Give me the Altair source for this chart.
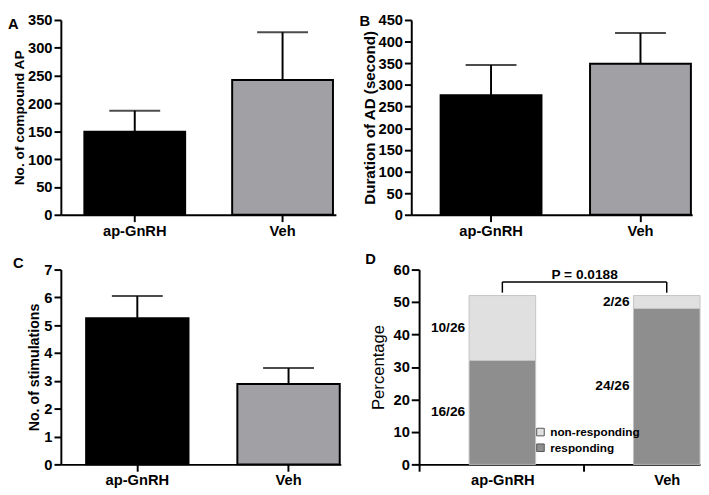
import altair as alt
import pandas as pd

FONT = "Liberation Sans"

# ---------------- data ----------------
groups = ["ap-GnRH", "Veh"]
bar_colors = ["#000000", "#a1a1a5"]

# Panel A: No. of compound AP
a_mean = [149, 242]
a_upper = [187, 328]
# Panel B: Duration of AD (second)
b_mean = [276, 349]
b_upper = [346, 420]
# Panel C: No. of stimulations
c_mean = [5.25, 2.89]
c_upper = [6.05, 3.46]

# Panel D: Percentage (stacked)
d_groups = ["ap-GnRH", "ap-GnRH", "Veh", "Veh"]
d_status = ["responding", "non-responding", "responding", "non-responding"]
d_values = [32, 20, 48, 4]
d_labels = ["16/26", "10/26", "24/26", "2/26"]
d_status_order = ["non-responding", "responding"]
d_colors = ["#e0e0e0", "#8e8e8e"]
p_text = "P = 0.0188"
bracket_top = 56.2
bracket_bottom = 52.9
p_text_y = 58.3

H = 199


def x_axis(**kw):
    return alt.Axis(title=None, labelAngle=0, labelFont=FONT, labelFontSize=15,
                    labelFontWeight="bold", labelColor="black", domainColor="black",
                    domainWidth=2, tickColor="black", tickWidth=2, tickSize=7,
                    labelPadding=2, **kw)


def y_axis(title, values, title_size, title_weight="bold", title_pad=1, label_size=15):
    return alt.Axis(title=title, values=values, grid=False, labelFont=FONT,
                    labelFontSize=label_size, labelFontWeight="bold", labelColor="black",
                    domainColor="black", domainWidth=2, tickColor="black", tickWidth=2,
                    tickSize=7, labelPadding=2, titleFont=FONT, titleFontSize=title_size,
                    titleFontWeight=title_weight, titleColor="black", titlePadding=title_pad)


def bar_panel(means, upper, ymax, ystep, title, title_size, width, height,
              pi, po, align, letter, lx, ly, title_pad):
    df = pd.DataFrame({"group": groups, "mean": means, "upper": upper, "fill": bar_colors})
    xs = alt.Scale(domain=groups, paddingInner=pi, paddingOuter=po, align=align)
    x = alt.X("group:N", sort=groups, scale=xs, axis=x_axis())
    ys = alt.Scale(domain=[0, ymax], nice=False, zero=True)
    yax = y_axis(title, [v for v in range(0, int(ymax) + 1, ystep)], title_size, title_pad=title_pad)
    bars = alt.Chart(df).mark_bar(stroke="black", strokeWidth=2).encode(
        x=x,
        y=alt.Y("mean:Q", scale=ys, axis=yax),
        fill=alt.Fill("fill:N", scale=None),
    )
    err = alt.Chart(df).mark_rule(color="black", strokeWidth=2).encode(
        x=x, y=alt.Y("mean:Q", scale=ys, axis=yax), y2="upper:Q")
    cap = alt.Chart(df).mark_tick(color="black", size=52, thickness=2).encode(
        x=x, y=alt.Y("upper:Q", scale=ys, axis=yax))
    let = alt.Chart(pd.DataFrame({"t": [letter]})).mark_text(
        font=FONT, fontSize=15, fontWeight="bold", align="left", baseline="middle", color="black"
    ).encode(text="t:N", x=alt.value(lx), y=alt.value(ly))
    return alt.layer(bars, err, cap, let).properties(width=width, height=height)


def pct_panel():
    df = pd.DataFrame({"group": d_groups, "status": d_status, "value": d_values, "label": d_labels})
    xs = alt.Scale(domain=groups, paddingInner=0.595, paddingOuter=0.152, align=1)
    xax = x_axis(tickOffset=-85, labelOffset=85)
    x = alt.X("group:N", sort=groups, scale=xs, axis=xax)
    ys = alt.Scale(domain=[0, 60], nice=False)
    yax = alt.Axis(title="Percentage", values=list(range(0, 61, 10)), grid=False, labelFont=FONT,
                   labelFontSize=15, labelFontWeight="bold", labelColor="black",
                   domainColor="black", domainWidth=2, tickColor="black", tickWidth=2,
                   tickSize=8, labelPadding=2, titleFont=FONT, titleFontSize=17,
                   titleFontWeight="normal", titleColor="black", titlePadding=6)
    base = alt.Chart(df).transform_calculate(
        rank="datum.status === 'responding' ? 0 : 1")
    bars = base.mark_bar(stroke="#c4c4c4", strokeWidth=1).encode(
        x=x,
        y=alt.Y("value:Q", stack="zero", scale=ys, axis=yax),
        color=alt.Color("status:N", scale=alt.Scale(domain=d_status_order, range=d_colors),
                        legend=alt.Legend(title=None, orient="none", legendX=118, legendY=160,
                                          labelFont=FONT, labelFontSize=12, labelFontWeight="bold",
                                          labelColor="black", symbolType="square", symbolSize=60,
                                          symbolStrokeColor="#555555", symbolStrokeWidth=1,
                                          rowPadding=4, labelOffset=4, padding=0)),
        order=alt.Order("rank:Q"),
    )
    labels = base.transform_stack(
        stack="value", groupby=["group"], sort=[alt.SortField("rank")], as_=["v0", "v1"]
    ).transform_calculate(mid="(datum.v0 + datum.v1) / 2").mark_text(
        font=FONT, fontSize=14, fontWeight="bold", align="right", baseline="middle",
        dx=-38, color="black"
    ).encode(x=x, y=alt.Y("mid:Q", scale=ys, axis=yax), text="label:N")

    bdf = pd.DataFrame({"group": groups, "top": [bracket_top] * 2, "bot": [bracket_bottom] * 2})
    vert = alt.Chart(bdf).mark_rule(color="black", strokeWidth=1.5).encode(
        x=x, y=alt.Y("top:Q", scale=ys, axis=yax), y2="bot:Q")
    hdf = pd.DataFrame({"group": [groups[0]], "b": [groups[1]], "top": [bracket_top],
                        "ty": [p_text_y], "t": [p_text]})
    horiz = alt.Chart(hdf).mark_rule(color="black", strokeWidth=1.5).encode(
        x=x, x2="b:N", y=alt.Y("top:Q", scale=ys, axis=yax))
    ptxt = alt.Chart(hdf).mark_text(
        font=FONT, fontSize=14, fontWeight="bold", align="center", baseline="middle",
        dx=84, color="black"
    ).encode(x=x, y=alt.Y("ty:Q", scale=ys, axis=yax), text="t:N")
    let = alt.Chart(pd.DataFrame({"t": ["D"]})).mark_text(
        font=FONT, fontSize=15, fontWeight="bold", align="left", baseline="middle", color="black"
    ).encode(text="t:N", x=alt.value(-55), y=alt.value(-11))
    return alt.layer(bars, labels, vert, horiz, ptxt, let).properties(width=287, height=H)


panel_a = bar_panel(a_mean, a_upper, 350, 50, "No. of compound AP", 14, 281, H,
                    0.318, 0.0894, 0.889, "A", -54, 4, 1)
panel_b = bar_panel(b_mean, b_upper, 450, 50, "Duration of AD (second)", 15.5, 287, H,
                    0.325, 0.1025, 0.958, "B", -53, 1, 1)
panel_c = bar_panel(c_mean, c_upper, 7, 1, "No. of stimulations", 14.5, 286, H,
                    0.323, 0.087, 0.96, "C", -49, -7, 2)
panel_d = pct_panel()

row1 = alt.hconcat(panel_a, panel_b, spacing=24)
row2 = alt.hconcat(panel_c, panel_d, spacing=25).resolve_scale(color="independent")

chart = alt.vconcat(row1, row2, spacing=14).resolve_scale(color="independent").properties(
    padding=0
).configure_view(stroke=None)

chart.save("out.html", embed_options={"renderer": "svg", "actions": False})
